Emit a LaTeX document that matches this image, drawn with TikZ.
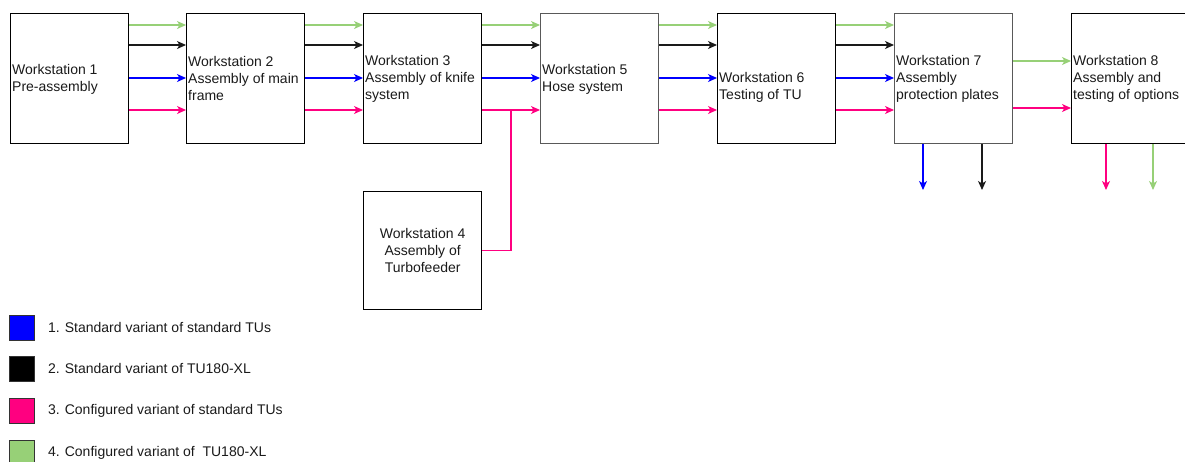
\documentclass[tikz,border=0pt]{standalone}
\usepackage{fontspec}
\setmainfont{Liberation Sans}
\usetikzlibrary{arrows.meta,calc}
\definecolor{flowblue}{HTML}{0000FF}
\definecolor{flowpink}{HTML}{FF0080}
\definecolor{flowgreen}{HTML}{97D077}
\definecolor{flowblack}{HTML}{1A1A1A}
\definecolor{txt}{HTML}{1A1A1A}
\tikzset{
  ws/.style={draw=black, line width=1.3pt, minimum width=118pt, minimum height=130pt, inner sep=0pt, anchor=north west},
  wslight/.style={ws, draw=black!65},
  wstext/.style={anchor=west, align=left, inner sep=0pt, text=txt, font=\fontsize{14}{17}\selectfont},
  flow/.style={line width=1.1pt, -{Stealth[length=9pt,width=8pt,inset=2.5pt]}},
  fb/.style={flow, draw=flowblue, fill=flowblue},
  fk/.style={flow, draw=flowblack, fill=flowblack},
  fp/.style={flow, draw=flowpink, fill=flowpink},
  fg/.style={flow, draw=flowgreen, fill=flowgreen},
  legbox/.style={draw=black!80, line width=0.8pt, minimum width=25pt, minimum height=25pt, inner sep=0pt, anchor=north west},
  legtext/.style={anchor=west, inner sep=0pt, text=txt, font=\fontsize{14}{17}\selectfont},
}
\begin{document}
\begin{tikzpicture}[x=1pt, y=-1pt]
\useasboundingbox (0,0) rectangle (1185,461);

% workstations on the main line
\node[ws]      (w1) at (10,13)   {};
\node[ws]      (w2) at (186,13)  {};
\node[ws]      (w3) at (363,13)  {};
\node[wslight] (w5) at (540,13)  {};
\node[ws]      (w6) at (717,13)  {};
\node[wslight] (w7) at (894,13)  {};
\node[ws]      (w8) at (1071,13) {};
\node[ws, minimum height=118pt] (w4) at (363,191) {};

\node[wstext] (t1) at ($(w1.west)+(2,0.5)$) {Workstation 1\\Pre-assembly};
\node[wstext] (t2) at ($(w2.west)+(2,0)$) {Workstation 2\\Assembly of main\\frame};
\node[wstext] (t3) at ($(w3.west)+(2,0)$) {Workstation 3\\Assembly of knife\\system};
\node[wstext] (t5) at ($(w5.west)+(2,0.5)$) {Workstation 5\\Hose system};
\node[wstext] (t6) at ($(w6.west)+(2,9)$) {Workstation 6\\Testing of TU};
\node[wstext] (t7) at ($(w7.west)+(2,0)$) {Workstation 7\\Assembly\\protection plates};
\node[wstext] (t8) at ($(w8.west)+(2,0)$) {Workstation 8\\Assembly and\\testing of options};
\node[wstext, anchor=center, align=center] (t4) at (w4.center) {Workstation 4\\Assembly of\\Turbofeeder};

% four product flows between consecutive stations
\foreach \a/\b in {w1/w2, w2/w3, w3/w5, w5/w6, w6/w7} {
  \draw[fg] (\a.north east |- 0,25)  -- (\b.north west |- 0,25);
  \draw[fk] (\a.north east |- 0,45)  -- (\b.north west |- 0,45);
  \draw[fb] (\a.north east |- 0,78)  -- (\b.north west |- 0,78);
  \draw[fp] (\a.north east |- 0,110) -- (\b.north west |- 0,110);
}

% turbofeeder joins the configured flow
\coordinate (j) at (511,110);
\draw[flowpink, line width=1.1pt] (w4.east) -| (j);

% configured variants continue to station 8
\draw[fg] (w7.north east |- 0,61)  -- (w8.north west |- 0,61);
\draw[fp] (w7.north east |- 0,108) -- (w8.north west |- 0,108);

% outgoing flows
\coordinate (o1) at (923,190);
\coordinate (o2) at (982,190);
\coordinate (o3) at (1106,190);
\coordinate (o4) at (1153,190);
\draw[fb] (w7.south west -| o1) -- (o1);
\draw[fk] (w7.south west -| o2) -- (o2);
\draw[fp] (w8.south west -| o3) -- (o3);
\draw[fg] (w8.south west -| o4) -- (o4);

% legend
\node[legbox, fill=flowblue]  (l1) at (9,315) {};
\node[legbox, fill=black]     (l2) at (9,356) {};
\node[legbox, fill=flowpink]  (l3) at (9,398) {};
\node[legbox, fill=flowgreen] (l4) at (9,440) {};
\node[legtext] (lt1) at ($(l1.east)+(13,0)$) {1. Standard variant of standard TUs};
\node[legtext] (lt2) at ($(l2.east)+(13,0)$) {2. Standard variant of TU180-XL};
\node[legtext] (lt3) at ($(l3.east)+(13,0)$) {3. Configured variant of standard TUs};
\node[legtext] (lt4) at ($(l4.east)+(13,0)$) {4. Configured variant of\ \ TU180-XL};
\end{tikzpicture}
\end{document}
